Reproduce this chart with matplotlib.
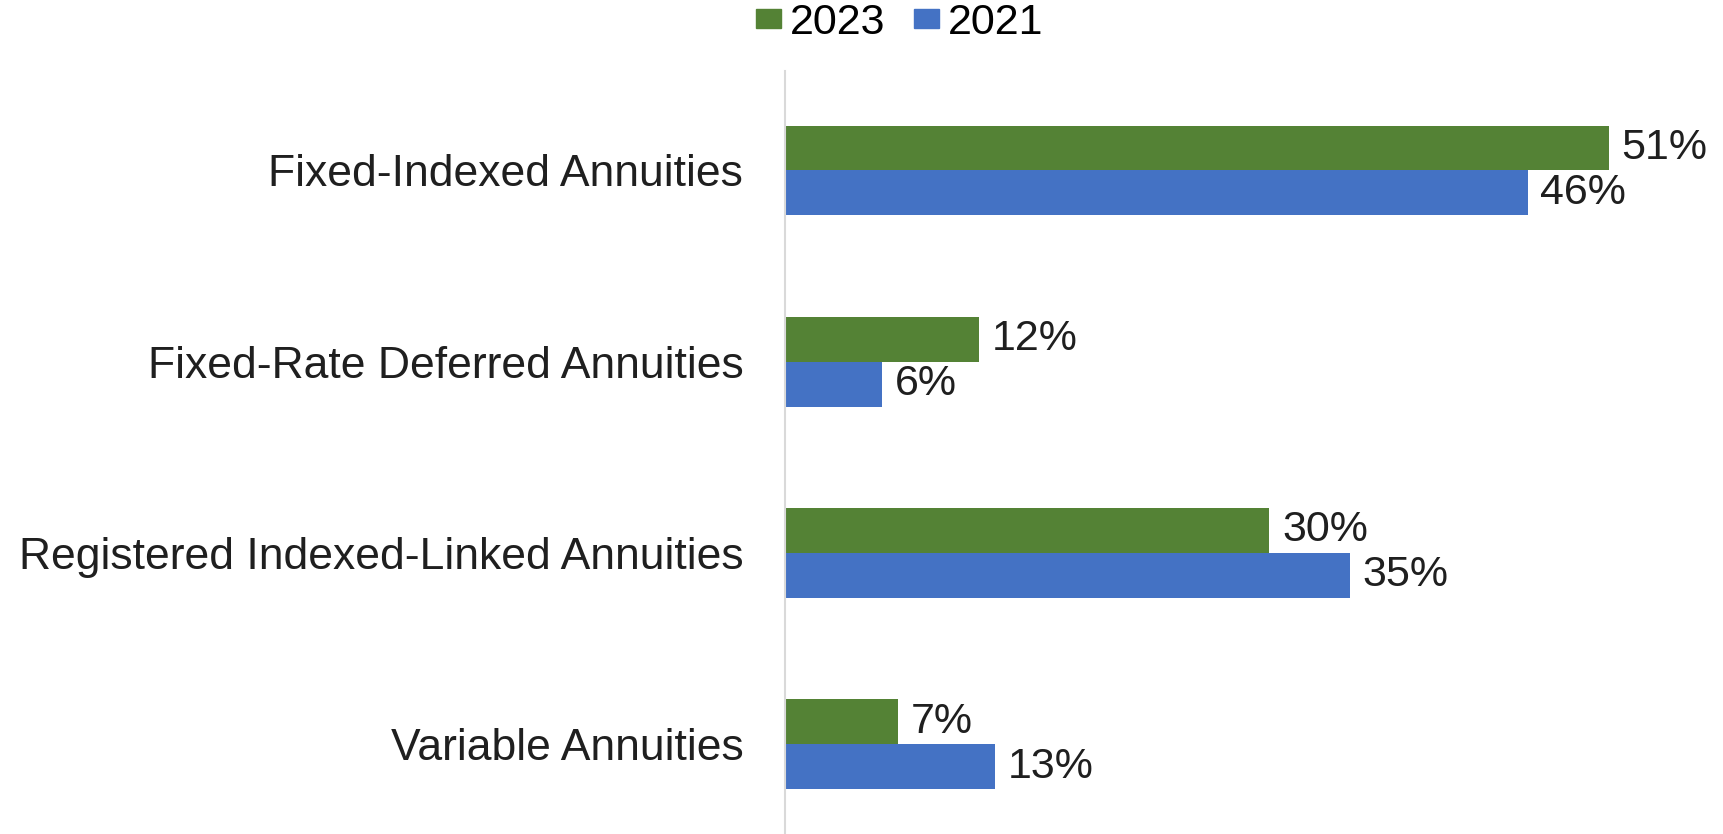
import matplotlib.pyplot as plt
import numpy as np
from matplotlib.patches import Patch

categories = ["Fixed-Indexed Annuities", "Fixed-Rate Deferred Annuities",
              "Registered Indexed-Linked Annuities", "Variable Annuities"]
series_names = ["2023", "2021"]
vals_2023 = [51, 12, 30, 7]
vals_2021 = [46, 6, 35, 13]

green = "#548235"
blue = "#4472C4"
plt.rcParams['font.family'] = ['Liberation Sans', 'DejaVu Sans']
fs = 31

fig = plt.figure(figsize=(17.24, 8.34), dpi=100)
ax = fig.add_axes([785 / 1724, 0, 1 - 785 / 1724, 1 - 71 / 834])

y = np.arange(len(categories))
h = 0.235
b1 = ax.barh(y - h / 2, vals_2023, height=h, color=green, label=series_names[0])
b2 = ax.barh(y + h / 2, vals_2021, height=h, color=blue, label=series_names[1])
for bars in (b1, b2):
    ax.bar_label(bars, labels=[f"{v}%" for v in bars.datavalues],
                 padding=9, fontsize=fs, color="#1f1f1f")

ax.set_xlim(0, (1724 - 785) / 16.15)
ax.set_ylim(3.47, -0.52)
ax.set_yticks(y)
ax.set_yticklabels(categories, fontsize=32, color="#1f1f1f")
ax.tick_params(axis='y', length=0, pad=30)
ax.set_xticks([])
for s in ["top", "right", "bottom"]:
    ax.spines[s].set_visible(False)
ax.spines["left"].set_color("#d9d9d9")
ax.spines["left"].set_linewidth(1.5)

handles = [Patch(color=green), Patch(color=blue)]
fig.legend(handles, series_names, loc="center", bbox_to_anchor=(0.522, 0.972),
           ncol=2, frameon=False, fontsize=fs, handlelength=0.57, handleheight=0.3,
           handletextpad=0.22, columnspacing=0.67, borderpad=0)

fig.savefig("out.png", dpi=100)
